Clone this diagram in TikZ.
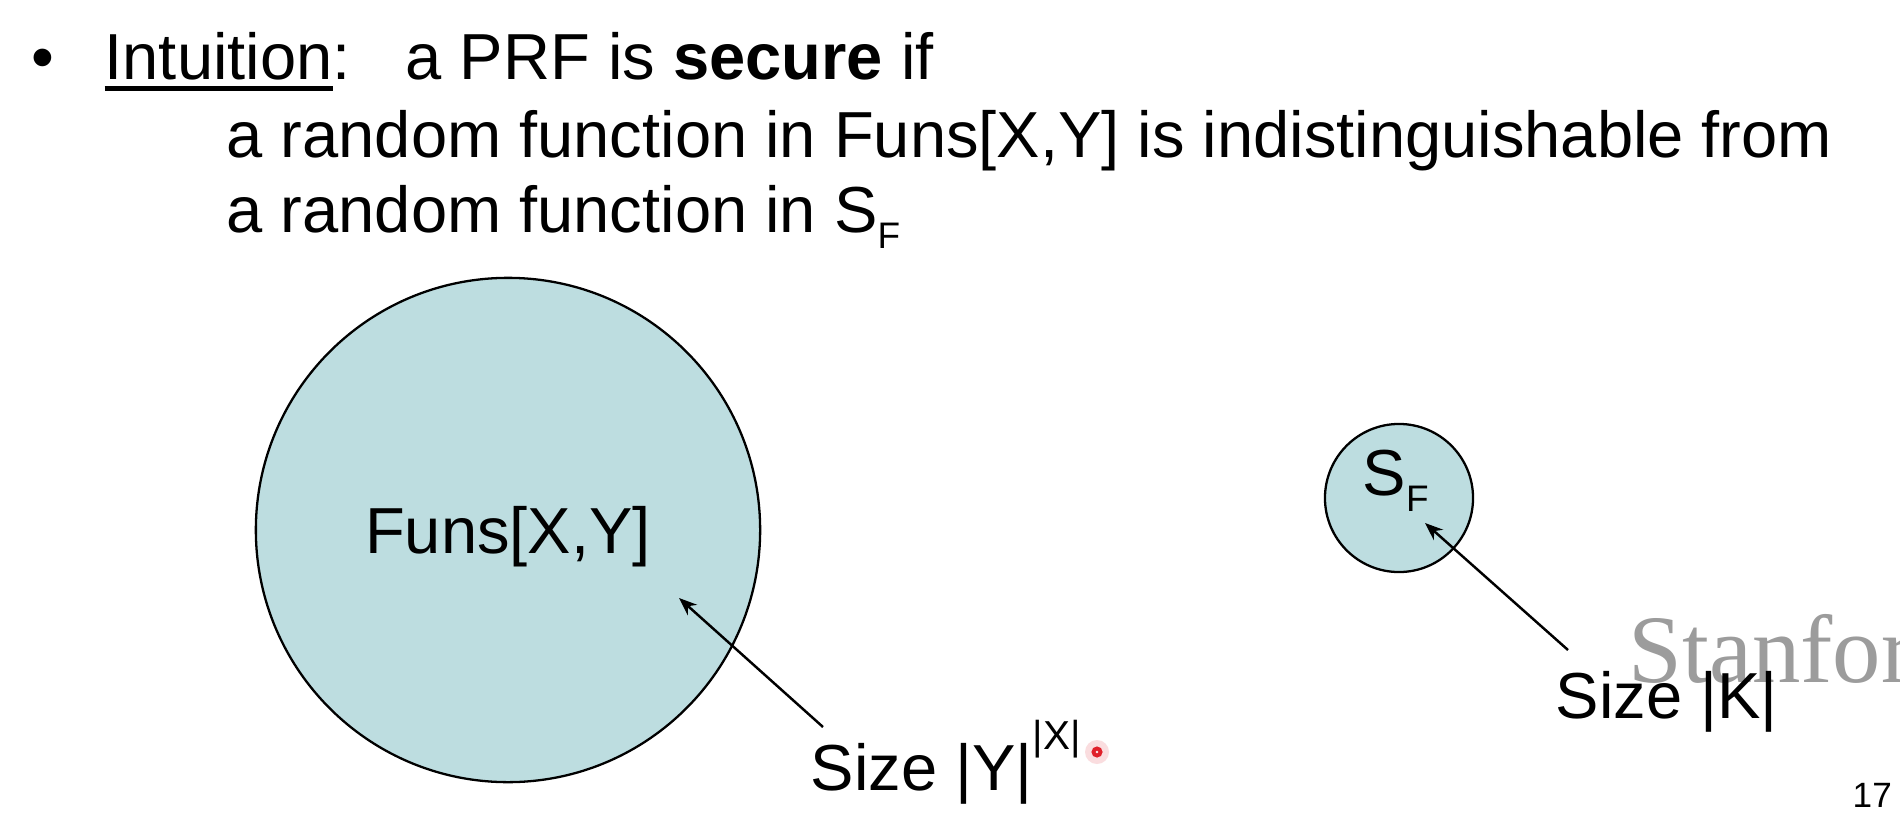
\documentclass[tikz,border=0pt]{standalone}
\usepackage{fontspec}
\setmainfont{Liberation Sans}
\newfontfamily\wmfont{Liberation Serif}
\usetikzlibrary{arrows.meta}
\definecolor{setFill}{HTML}{BDDDE0}
\definecolor{wmGray}{HTML}{9C9C9C}
\definecolor{ptrRed}{HTML}{E0202A}
\newcommand{\bodyfont}{\fontsize{18.5}{22}\selectfont}
\newcommand{\supx}[1]{\raisebox{0.4cm}{\fontsize{11.5}{13}\selectfont #1}}
\newcommand{\subx}[1]{\raisebox{-0.16cm}{\fontsize{10.5}{12}\selectfont #1}}
\newcommand{\ulx}[1]{\setbox0\hbox{#1}\rlap{\rule[-0.105cm]{\wd0}{0.05cm}}\box0}
\tikzset{
  >=Stealth,
  txt/.style ={anchor=base west,inner sep=0pt,font=\bodyfont},
  fset/.style={circle,draw=black,line width=0.65pt,fill=setFill,inner sep=0pt,font=\bodyfont},
  rel/.style ={-{Stealth[length=0.18cm,width=0.14cm]},line width=0.7pt},
}

\begin{document}
\begin{tikzpicture}[x=0.01cm,y=-0.01cm]
  \fill[white] (0,0) rectangle (1900,818);
  \clip (0,0) rectangle (1900,818);

  \node[txt,anchor=base] (dot) at (43,80) {•};
  \node[txt] (l1) at (104,80) {\ulx{Intuition}:\hspace{0.55cm}a PRF is \textbf{secure} if};
  \node[txt] (l2) at (226,157) {a random function in Funs[X,Y] is indistinguishable from};
  \node[txt] (l3) at (226,232) {a random function in S\subx{F}};

  \node[txt,font=\wmfont\fontsize{27.5}{30}\selectfont,text=wmGray] (wm) at (1628,682) {Stanford};

  \node[fset,minimum size=5.04cm,text depth=0pt] (funs) at (508,530) {Funs[X,Y]};
  \node[fset,minimum size=1.48cm] (sf) at (1399,498) {};
  \node[txt] (sftxt) at (1362,495) {S\subx{F}};

  \node[txt] (szy) at (810,790) {Size |Y|\supx{|X|}};
  \node[txt] (szk) at (1555,718) {Size |K|};
  \node[txt,font=\fontsize{10}{12}\selectfont] (pg) at (1852,807) {17};

  \coordinate (funsin) at (679,598);
  \coordinate (sfin) at (1425,523);
  \draw[rel] ([shift={(13,-63)}]szy.base west) -- (funsin);
  \draw[rel] ([shift={(13,-68)}]szk.base west) -- (sfin);

  \fill[ptrRed,opacity=0.15] (1097,752) circle (0.12cm);
  \draw[ptrRed,line width=1.1pt] (1097,752) circle (0.035cm);
\end{tikzpicture}
\end{document}
